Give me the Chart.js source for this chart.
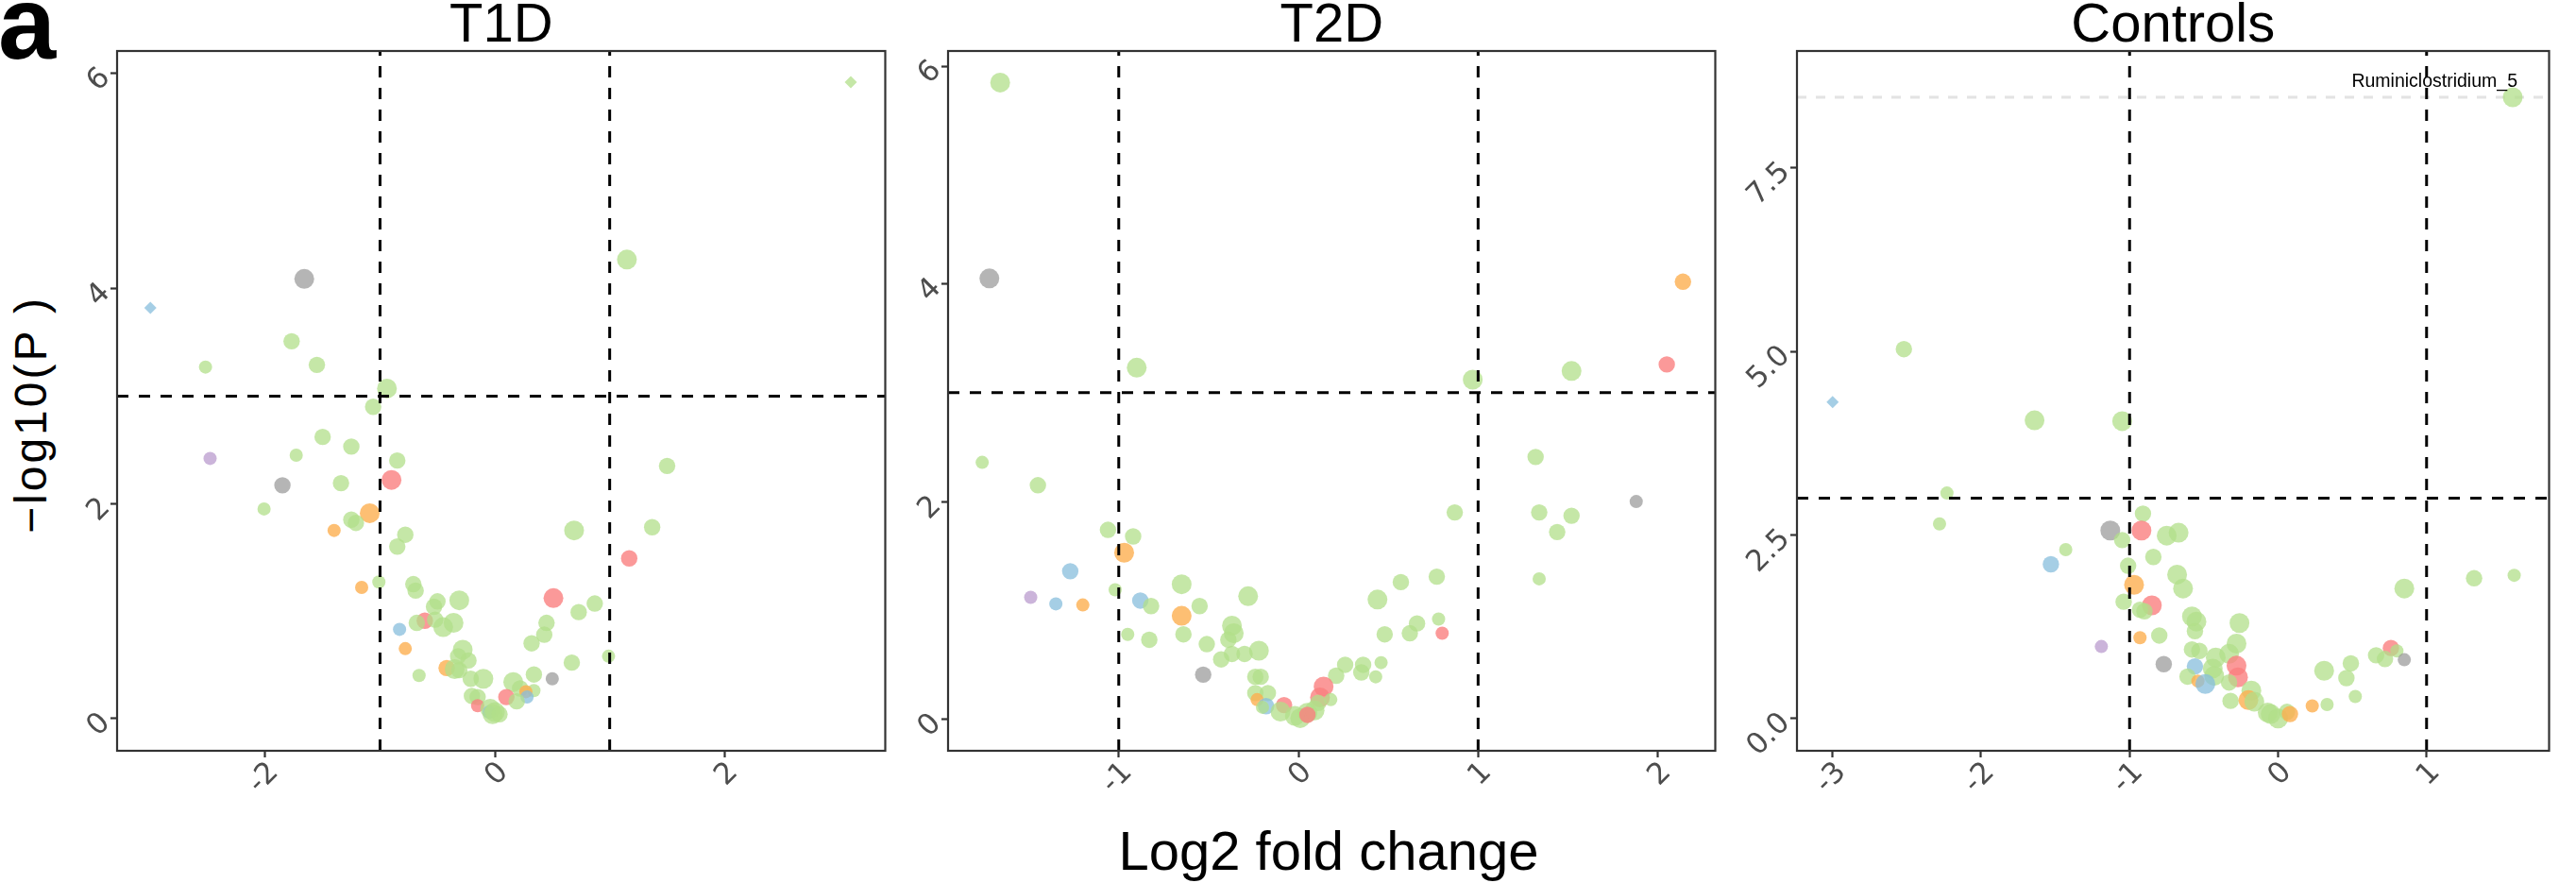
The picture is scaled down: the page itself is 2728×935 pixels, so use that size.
<!DOCTYPE html>
<html>
<head>
<meta charset="utf-8">
<title>Volcano plots</title>
<script src="https://cdn.jsdelivr.net/npm/chart.js@4.4.1/dist/chart.umd.min.js"></script>
<style>
  html, body { margin:0; padding:0; background:#ffffff; }
  body { width:2728px; height:935px; position:relative; overflow:hidden; }
  canvas { position:absolute; top:0; }
  .t { position:absolute; white-space:nowrap; color:#000; font-family:"Liberation Sans", Arial, sans-serif; line-height:1; }
</style>
</head>
<body>
<div class="t" style="left:-2px; top:-31px; font-size:110px; font-weight:bold;">a</div>
<div class="t" id="xtitle" style="top:872px; font-size:58px; transform:translateX(-50%);"></div>
<div class="t" id="ytitle" style="left:33px; top:439px; font-size:48px; letter-spacing:3px; transform:translate(-50%,-50%) rotate(-90deg);"></div>
<script>
// ---------------- text ----------------
const PANEL_TITLES = ['T1D', 'T2D', 'Controls'];
const X_TITLE = 'Log2 fold change';
const Y_TITLE = '\u2212log10(P )';

// ---------------- cut-offs ----------------
const FC_CUTOFF = [-1, 1];
const P_CUTOFF = [3];

// ---------------- T1D ----------------
const T1D_LOG2FC = [-3.00, 3.10, -1.66, 1.15, -1.77, -1.55, -2.52, -0.94, -1.06, -1.50,
  -1.25, -1.73, -2.48, -0.85, -0.90, -1.85, -1.34, -2.01, -1.09, -1.25,
  -1.21, -1.40, 0.69, 1.37, 1.50, -0.78, -0.85, 1.17, -1.16, -1.01,
  -0.71, -0.69, 0.51, -0.31, -0.50, -0.53, 0.87, 0.73, -0.83, -0.61,
  -0.68, -0.52, -0.36, -0.45, 0.45, 0.43, 0.32, -0.78, -0.28, -0.32,
  -0.23, 0.67, 0.99, -0.42, -0.35, -0.31, -0.66, 0.50, 0.34, -0.10,
  -0.21, 0.16, 0.22, 0.34, 0.27, 0.28, 0.10, -0.20, -0.15, -0.15,
  0.19, -0.04, -0.05, -0.02, 0.04, 0.00];
const T1D_NLOG10P = [3.82, 5.92, 4.09, 4.27, 3.51, 3.29, 3.27, 3.07, 2.90, 2.62,
  2.53, 2.45, 2.42, 2.40, 2.22, 2.17, 2.19, 1.95, 1.91, 1.85,
  1.82, 1.75, 1.75, 1.78, 2.35, 1.71, 1.60, 1.49, 1.22, 1.27,
  1.25, 1.19, 1.12, 1.10, 1.09, 1.04, 1.07, 0.99, 0.83, 0.91,
  0.89, 0.92, 0.89, 0.85, 0.89, 0.78, 0.70, 0.65, 0.64, 0.58,
  0.54, 0.52, 0.58, 0.47, 0.46, 0.45, 0.40, 0.37, 0.41, 0.37,
  0.37, 0.34, 0.28, 0.26, 0.25, 0.20, 0.20, 0.21, 0.20, 0.12,
  0.16, 0.09, 0.06, 0.04, 0.04, 0.06];
const T1D_GROUP = ['B','G','K','G','G','G','G','G','G','G',
  'G','G','P','G','R','K','G','G','O','G',
  'G','O','G','G','G','G','G','R','O','G',
  'G','G','R','G','G','G','G','G','B','R',
  'G','G','G','G','G','G','G','O','G','G',
  'G','G','G','O','G','G','G','K','G','G',
  'G','G','G','G','O','B','R','G','G','R',
  'G','G','B','G','G','G'];
const T1D_ABUND = [1,1,3,3,2,2,1,3,2,2,
  2,1,1,2,3,2,2,1,3,2,
  2,1,3,2,2,2,2,2,1,1,
  2,2,3,3,2,2,2,2,1,2,
  2,2,3,3,2,2,2,1,3,2,
  2,2,1,2,3,2,1,1,2,3,
  2,3,2,1,1,1,2,2,2,1,
  2,3,1,3,2,3];
const T1D_DIAMOND = [0, 1];
const T1D_X_LIMITS = [-3.29, 3.40];
const T1D_Y_LIMITS = [-0.30, 6.21];
const T1D_X_TICKS = [-2, 0, 2];
const T1D_X_TICK_LABELS = ['-2', '0', '2'];
const T1D_Y_TICKS = [0, 2, 4, 6];
const T1D_Y_TICK_LABELS = ['0', '2', '4', '6'];

// ---------------- T2D ----------------
const T2D_LOG2FC = [-1.66, -1.72, 2.14, 2.05, -0.90, 1.52, 0.97, -1.76, -1.45, 1.32,
  1.88, 0.87, 1.34, 1.52, 1.44, -1.06, -0.92, -0.97, -1.27, 1.34,
  0.77, 0.57, -0.65, -1.02, -1.49, -1.35, -1.20, -0.88, -0.82, -0.28,
  0.44, -0.55, -0.65, 0.78, 0.66, 0.80, 0.62, 0.48, -0.95, -0.83,
  -0.64, -0.37, -0.36, -0.39, -0.51, -0.22, -0.30, -0.37, -0.43, 0.26,
  0.36, 0.46, 0.35, 0.43, 0.21, -0.53, -0.24, -0.21, -0.24, -0.17,
  0.14, 0.12, 0.18, 0.11, -0.23, -0.18, -0.08, -0.20, -0.10, 0.05,
  -0.02, 0.01, 0.09, 0.05];
const T2D_NLOG10P = [5.85, 4.05, 4.02, 3.26, 3.23, 3.20, 3.12, 2.36, 2.15, 2.41,
  2.00, 1.90, 1.90, 1.87, 1.72, 1.74, 1.68, 1.53, 1.36, 1.29,
  1.31, 1.26, 1.24, 1.19, 1.12, 1.06, 1.05, 1.09, 1.04, 1.13,
  1.10, 1.04, 0.95, 0.92, 0.88, 0.79, 0.79, 0.78, 0.78, 0.73,
  0.78, 0.86, 0.79, 0.73, 0.69, 0.63, 0.60, 0.60, 0.55, 0.50,
  0.50, 0.52, 0.43, 0.39, 0.40, 0.41, 0.39, 0.39, 0.24, 0.24,
  0.30, 0.20, 0.18, 0.15, 0.18, 0.12, 0.13, 0.11, 0.07, 0.06,
  0.03, 0.01, 0.08, 0.04];
const T2D_GROUP = ['G','K','O','R','G','G','G','G','G','G',
  'K','G','G','G','G','G','G','O','B','G',
  'G','G','G','G','P','B','O','B','G','G',
  'G','G','O','G','G','R','G','G','G','G',
  'G','G','G','G','G','G','G','G','G','G',
  'G','G','G','G','G','K','G','G','G','G',
  'R','R','G','G','O','B','R','G','G','G',
  'G','G','G','R'];
const T2D_ABUND = [3,3,2,2,3,3,3,1,2,2,
  1,2,2,2,2,2,2,3,2,1,
  2,2,3,1,1,1,1,2,2,3,
  3,2,3,1,2,1,2,2,1,2,
  2,3,3,2,2,3,2,2,2,2,
  2,1,2,1,2,2,2,2,2,2,
  3,3,1,2,1,2,2,1,3,3,
  3,3,3,2];
const T2D_DIAMOND = [];
const T2D_X_LIMITS = [-1.95, 2.32];
const T2D_Y_LIMITS = [-0.29, 6.14];
const T2D_X_TICKS = [-1, 0, 1, 2];
const T2D_X_TICK_LABELS = ['-1', '0', '1', '2'];
const T2D_Y_TICKS = [0, 2, 4, 6];
const T2D_Y_TICK_LABELS = ['0', '2', '4', '6'];

// ---------------- Controls ----------------
const CTRL_LOG2FC = [1.58, -2.52, -3.00, -1.64, -1.05, -2.23, -2.28, -0.91, -1.13, -0.92,
  -0.75, -0.67, -1.05, -1.43, -1.53, -0.84, -1.01, -0.68, -0.97, -0.64,
  0.85, 1.32, 1.59, -1.04, -0.85, -0.93, -0.90, -0.58, -0.55, -0.26,
  -0.56, -0.93, -0.80, -1.19, -0.28, -0.58, -0.53, -0.33, -0.42, 0.76,
  0.80, 0.66, 0.72, 0.85, 0.49, 0.31, 0.46, 0.52, -0.77, -0.56,
  -0.28, -0.27, -0.44, -0.43, -0.61, -0.54, -0.49, -0.33, -0.18, -0.32,
  -0.20, -0.16, -0.07, -0.05, 0.00, 0.06, 0.08, 0.23, 0.33];
const CTRL_NLOG10P = [8.46, 5.03, 4.31, 4.06, 4.05, 3.07, 2.65, 2.79, 2.56, 2.56,
  2.49, 2.53, 2.43, 2.30, 2.10, 2.20, 2.08, 1.96, 1.82, 1.77,
  1.77, 1.91, 1.95, 1.59, 1.54, 1.48, 1.46, 1.39, 1.32, 1.30,
  1.19, 1.10, 1.13, 0.98, 1.02, 0.94, 0.92, 0.88, 0.83, 0.96,
  0.92, 0.86, 0.81, 0.80, 0.75, 0.65, 0.55, 0.30, 0.74, 0.71,
  0.72, 0.56, 0.68, 0.58, 0.57, 0.51, 0.47, 0.49, 0.38, 0.24,
  0.25, 0.23, 0.08, 0.06, 0.00, 0.09, 0.06, 0.17, 0.19];
const CTRL_GROUP = ['G','G','B','G','G','G','G','G','K','R',
  'G','G','G','G','B','G','G','G','O','G',
  'G','G','G','G','R','G','G','G','G','G',
  'G','O','G','P','G','G','G','G','G','R',
  'G','G','G','K','G','G','G','G','K','B',
  'R','R','G','G','G','O','B','G','G','G',
  'O','G','G','G','G','G','O','O','G'];
const CTRL_ABUND = [3,2,1,3,3,1,1,2,3,3,
  3,3,2,1,2,2,2,3,3,3,
  3,2,1,2,3,2,2,3,3,3,
  2,1,2,1,3,2,2,3,3,2,
  1,2,2,1,2,3,2,1,2,2,
  3,3,3,3,2,1,3,2,3,2,
  3,3,3,3,3,2,2,1,1];
const CTRL_DIAMOND = [2];
const CTRL_X_LIMITS = [-3.24, 1.825];
const CTRL_Y_LIMITS = [-0.44, 9.09];
const CTRL_X_TICKS = [-3, -2, -1, 0, 1];
const CTRL_X_TICK_LABELS = ['-3', '-2', '-1', '0', '1'];
const CTRL_Y_TICKS = [0, 2.5, 5, 7.5];
const CTRL_Y_TICK_LABELS = ['0.0', '2.5', '5.0', '7.5'];
const CTRL_LABELLED = [0];
const CTRL_LABEL_TEXT = ['Ruminiclostridium_5'];

// ---------------- styles ----------------
const GROUP_COLOR = {
  G: 'rgba(178,223,138,0.75)',
  R: 'rgba(250,128,128,0.8)',
  O: 'rgba(253,175,80,0.8)',
  B: 'rgba(135,190,220,0.75)',
  P: 'rgba(185,155,205,0.75)',
  K: 'rgba(150,150,150,0.7)'
};
const SIZE_R = {1: 7, 2: 8.7, 3: 10.5};
const DIAMOND_R = 6.5;
const TICK_FONT = {family: '"DejaVu Sans", sans-serif', size: 31};
const TICK_COLOR = '#4d4d4d';
const PLOT_TOP = 54, PLOT_BOTTOM = 795, AXIS_W = 100, PAD_R = 4, CANVAS_H = 935;
const PANEL_BOX = [[124, 944], [1004, 1823], [1903, 2706]];

const PANELS = [
  {x: T1D_LOG2FC, y: T1D_NLOG10P, grp: T1D_GROUP, ab: T1D_ABUND, dia: T1D_DIAMOND,
   xl: T1D_X_LIMITS, yl: T1D_Y_LIMITS, xt: T1D_X_TICKS, xtl: T1D_X_TICK_LABELS, yt: T1D_Y_TICKS, ytl: T1D_Y_TICK_LABELS, lab: [], labText: []},
  {x: T2D_LOG2FC, y: T2D_NLOG10P, grp: T2D_GROUP, ab: T2D_ABUND, dia: T2D_DIAMOND,
   xl: T2D_X_LIMITS, yl: T2D_Y_LIMITS, xt: T2D_X_TICKS, xtl: T2D_X_TICK_LABELS, yt: T2D_Y_TICKS, ytl: T2D_Y_TICK_LABELS, lab: [], labText: []},
  {x: CTRL_LOG2FC, y: CTRL_NLOG10P, grp: CTRL_GROUP, ab: CTRL_ABUND, dia: CTRL_DIAMOND,
   xl: CTRL_X_LIMITS, yl: CTRL_Y_LIMITS, xt: CTRL_X_TICKS, xtl: CTRL_X_TICK_LABELS, yt: CTRL_Y_TICKS, ytl: CTRL_Y_TICK_LABELS, lab: CTRL_LABELLED, labText: CTRL_LABEL_TEXT}
];

const framePlugin = {
  id: 'frame',
  afterDraw(chart) {
    const a = chart.chartArea, ctx = chart.ctx;
    ctx.save();
    ctx.strokeStyle = '#333333';
    ctx.lineWidth = 2.2;
    ctx.strokeRect(a.left, a.top, a.right - a.left, a.bottom - a.top);
    ctx.restore();
  }
};
const labelPlugin = {
  id: 'ptLabel',
  afterDatasetsDraw(chart, args, opts) {
    const items = opts.items || [];
    if (!items.length) return;
    const ctx = chart.ctx, sx = chart.scales.x, sy = chart.scales.y;
    ctx.save();
    ctx.font = '19.5px "Liberation Sans", Arial, sans-serif';
    ctx.fillStyle = '#000';
    ctx.textAlign = 'right';
    ctx.textBaseline = 'alphabetic';
    items.forEach(it => ctx.fillText(it.text, sx.getPixelForValue(it.x) + 5, sy.getPixelForValue(it.y) - 11));
    ctx.restore();
  }
};

function lineDs(data, color, dash, width, order) {
  return {type: 'line', data, borderColor: color, borderWidth: width, borderDash: dash,
          pointRadius: 0, fill: false, showLine: true, order, tension: 0};
}

function buildPanel(i, p) {
  const L = PANEL_BOX[i][0], R = PANEL_BOX[i][1];
  const W = AXIS_W + (R - L) + PAD_R;
  const cv = document.createElement('canvas');
  cv.width = W; cv.height = CANVAS_H;
  cv.style.left = (L - AXIS_W) + 'px';
  cv.style.width = W + 'px'; cv.style.height = CANVAS_H + 'px';
  document.body.appendChild(cv);

  const pts = p.x.map((v, k) => ({x: v, y: p.y[k]}));
  const isDia = k => p.dia.indexOf(k) >= 0;
  const datasets = [];
  // highlight line at the labelled feature
  p.lab.forEach(k => datasets.push(lineDs([{x: p.xl[0], y: p.y[k]}, {x: p.xl[1], y: p.y[k]}], '#e3e3e3', [10, 10], 3, 3)));
  datasets.push({
    type: 'scatter', data: pts, order: 2,
    backgroundColor: p.grp.map(g => GROUP_COLOR[g]),
    borderWidth: 0, borderColor: 'rgba(0,0,0,0)',
    pointRadius: p.ab.map((a, k) => isDia(k) ? DIAMOND_R : SIZE_R[a]),
    pointStyle: p.x.map((v, k) => isDia(k) ? 'rectRot' : 'circle')
  });
  FC_CUTOFF.forEach(c => datasets.push(lineDs([{x: c, y: p.yl[0]}, {x: c, y: p.yl[1]}], '#000', [12, 11], 3, 0)));
  P_CUTOFF.forEach(c => datasets.push(lineDs([{x: p.xl[0], y: c}, {x: p.xl[1], y: c}], '#000', [12, 11], 3, 0)));

  const grid = {display: true, drawOnChartArea: false, drawTicks: true, tickLength: 7, tickWidth: 2.2, tickColor: '#333333'};
  const chart = new Chart(cv, {
    type: 'scatter',
    data: {datasets},
    options: {
      responsive: false, animation: false, devicePixelRatio: 1, events: [],
      layout: {padding: {top: PLOT_TOP, left: 0, right: PAD_R, bottom: 0}},
      plugins: {
        legend: {display: false}, tooltip: {enabled: false}, title: {display: false},
        ptLabel: {items: p.lab.map((k, j) => ({x: p.x[k], y: p.y[k], text: p.labText[j]}))}
      },
      scales: {
        x: {
          type: 'linear', position: 'bottom', min: p.xl[0], max: p.xl[1],
          afterBuildTicks: s => { s.ticks = p.xt.map(v => ({value: v})); },
          afterFit: s => { s.height = CANVAS_H - PLOT_BOTTOM; s.paddingLeft = 0; s.paddingRight = 0; },
          grid, border: {display: false},
          ticks: {autoSkip: false, minRotation: 45, maxRotation: 45, padding: -2, labelOffset: 9.5,
                  font: TICK_FONT, color: TICK_COLOR, callback: (v, idx) => p.xtl[idx]}
        },
        y: {
          type: 'linear', position: 'left', min: p.yl[0], max: p.yl[1],
          afterBuildTicks: s => { s.ticks = p.yt.map(v => ({value: v})); },
          afterFit: s => { s.width = AXIS_W; s.paddingTop = 0; s.paddingBottom = 0; },
          grid, border: {display: false},
          ticks: {autoSkip: false, minRotation: 45, maxRotation: 45, padding: 5,
                  font: TICK_FONT, color: TICK_COLOR, callback: (v, idx) => p.ytl[idx]}
        }
      }
    },
    plugins: [labelPlugin, framePlugin]
  });

  // panel title, centred over the plotting area
  const a = chart.chartArea;
  const t = document.createElement('div');
  t.className = 't';
  t.textContent = PANEL_TITLES[i];
  t.style.fontSize = '58px';
  t.style.top = '-4.6px';
  t.style.left = (L - AXIS_W + (a.left + a.right) / 2) + 'px';
  t.style.transform = 'translateX(-50%)';
  document.body.appendChild(t);
}

PANELS.forEach((p, i) => buildPanel(i, p));
const xt = document.getElementById('xtitle');
xt.textContent = X_TITLE;
xt.style.left = '1407px';
document.getElementById('ytitle').textContent = Y_TITLE;
</script>
</body>
</html>
